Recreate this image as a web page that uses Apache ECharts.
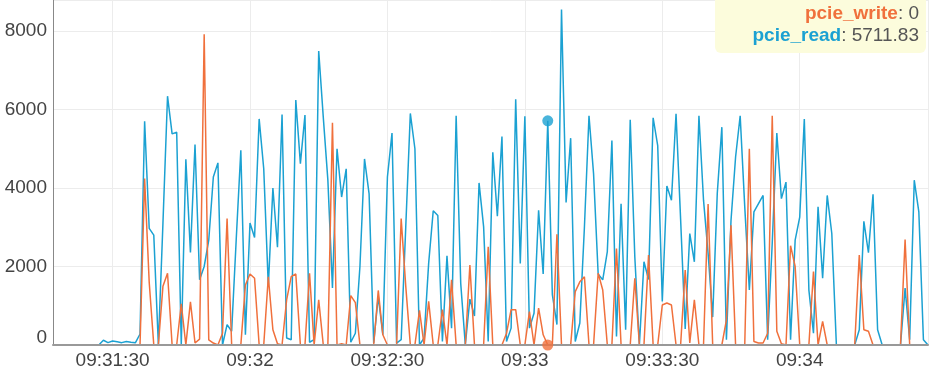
<!DOCTYPE html>
<html>
<head>
<meta charset="utf-8">
<script src="https://cdn.jsdelivr.net/npm/echarts@6/dist/echarts.min.js"></script>
<style>
html,body{margin:0;padding:0;background:#fff;}
#chart{width:944px;height:388px;}
</style>
</head>
<body>
<div id="chart"></div>
<script>
// ---- data (one sample per second, starting 09:31:17) ----
const startTime = [2024, 0, 1, 9, 31, 17];
const stepSeconds = 1;
const seriesNames = ['pcie_write', 'pcie_read'];
const pcieRead = [
  0,0,0,0,0,0,0,0,0,0,
  0,120,60,100,80,60,90,70,60,280,
  5700,2970,2800,0,3100,6340,5380,5420,0,4730,
  2360,5110,1660,2000,2670,4280,4640,0,520,350,
  2700,4960,260,3110,2740,5760,4490,1500,4000,2490,
  5870,180,135,6240,4620,5860,70,135,7490,5800,
  4200,1450,5000,3770,4490,70,300,2000,4740,3850,
  50,1235,260,4280,5400,50,135,3000,5900,5000,
  0,180,2080,3420,3300,90,2270,430,5840,1570,
  0,1170,740,4130,3010,90,4910,3280,5310,90,
  430,6260,2080,5830,430,810,3430,1810,5711.83,1280,
  520,8550,3630,5270,90,560,3000,5840,4360,1810,
  1660,2380,5210,220,3600,390,5740,2250,0,2120,
  1670,5790,5080,1110,4050,3690,5890,3200,410,2840,
  2120,5840,3690,2330,710,3860,5550,135,3180,4790,
  5840,3520,1400,3390,3600,3810,135,2600,5400,3730,
  4150,135,2670,3260,5760,1400,300,3520,1700,3810,
  2840,0,0,0,0,0,390,3150,2350,3840,
  390,0,0,0,0,0,1450,135,4200,3390,
  135,0
];
const pcieWrite = [
  0,0,0,0,0,0,0,0,0,0,
  0,0,0,0,0,0,0,0,0,0,
  4240,1600,0,0,1500,1830,0,0,1050,0,
  1100,50,150,7920,130,50,0,300,3220,0,
  0,0,1530,1810,1700,0,0,1740,390,30,
  0,1150,1740,1810,0,0,1830,0,1150,0,
  0,5660,0,30,0,1260,1080,0,0,0,
  0,1390,260,0,0,0,3220,1500,0,0,
  880,0,1110,0,0,900,0,1660,0,0,
  0,2040,0,0,0,2500,0,0,0,300,
  900,900,0,0,850,0,940,260,0,0,
  2820,0,0,0,1360,1610,1740,0,0,1830,
  1400,0,0,2460,0,0,0,1700,0,0,
  2290,0,0,1020,1070,1020,0,0,1910,50,
  1150,0,0,3590,0,0,0,640,3050,0,
  0,0,5000,90,50,50,300,5840,350,30,
  0,2530,2000,0,0,0,1870,0,600,0,
  0,0,0,0,0,0,2290,390,350,0,
  0,0,0,0,0,0,2690,0,0,0,
  0,0
];
const highlightIndex = 108; // 09:33:05
const yTicks = [0, 2000, 4000, 6000, 8000];
const yMax = 8790;

// ---- build ----
const t0 = new Date(startTime[0], startTime[1], startTime[2], startTime[3], startTime[4], startTime[5]).getTime();
const times = pcieRead.map((_, i) => t0 + i * stepSeconds * 1000);
const readData = pcieRead.map((v, i) => [times[i], v]);
const writeData = pcieWrite.map((v, i) => [times[i], v]);

const colWrite = '#f0703c';
const colRead = '#1ba1d2';
const pad = n => (n < 10 ? '0' : '') + n;
const FONT = 'Liberation Sans, Arial, sans-serif';

const chart = echarts.init(document.getElementById('chart'), null, {renderer: 'canvas'});
chart.setOption({
  animation: false,
  backgroundColor: '#fff',
  grid: {left: 53, right: 16, top: 0, bottom: 43, containLabel: false},
  xAxis: [{
    type: 'time',
    min: times[0],
    max: times[times.length - 1],
    minInterval: 31000,
    maxInterval: 31000,
    axisLine: {show: false},
    axisTick: {show: false},
    splitLine: {show: true, lineStyle: {color: '#ececec', width: 1}},
    axisLabel: {
      color: '#444', fontSize: 19, fontFamily: FONT, margin: 6,
      showMinLabel: false, showMaxLabel: false,
      formatter: function (v) {
        const d = new Date(v);
        const s = d.getSeconds();
        return pad(d.getHours()) + ':' + pad(d.getMinutes()) + (s ? ':' + pad(s) : '');
      }
    }
  }, {
    // axis line only, drawn above the series
    type: 'time', position: 'bottom', z: 4,
    min: times[0],
    max: times[times.length - 1],
    axisLine: {show: true, onZero: false, lineStyle: {color: '#999', width: 2}},
    axisTick: {show: false},
    axisLabel: {show: false},
    splitLine: {show: false}
  }],
  yAxis: {
    type: 'value',
    min: 0,
    max: yMax,
    interval: yTicks[1] - yTicks[0],
    axisLine: {show: true, lineStyle: {color: '#888', width: 1}},
    axisTick: {show: false},
    splitLine: {show: true, lineStyle: {color: '#ececec', width: 1}},
    axisLabel: {
      color: '#444', fontSize: 19, fontFamily: FONT, margin: 6,
      showMaxLabel: false,
      formatter: function (v) { return v === 0 ? '{z|0}' : String(v); },
      rich: {z: {color: '#444', fontSize: 19, fontFamily: FONT, padding: [0, 0, 14, 0]}}
    }
  },
  series: [
    {
      name: seriesNames[1], type: 'line', data: readData, showSymbol: false,
      lineStyle: {color: colRead, width: 1.5}, itemStyle: {color: colRead}, z: 2
    },
    {
      name: seriesNames[0], type: 'line', data: writeData, showSymbol: false,
      lineStyle: {color: colWrite, width: 1.5}, itemStyle: {color: colWrite}, z: 3
    },
    {
      type: 'scatter', data: [readData[highlightIndex]], symbolSize: 11,
      itemStyle: {color: colRead}, z: 6
    },
    {
      type: 'scatter', data: [writeData[highlightIndex]], symbolSize: 11,
      itemStyle: {color: colWrite}, z: 6
    }
  ],
  graphic: [
    {
      type: 'rect', z: 100,
      shape: {x: 715, y: -8, width: 211, height: 61, r: 6},
      style: {fill: '#fcfcdc'}
    },
    {
      type: 'text', z: 101, x: 919, y: 14,
      style: {
        text: '{a|' + seriesNames[0] + '}{b|: ' + pcieWrite[highlightIndex] + '}',
        align: 'right', verticalAlign: 'middle',
        rich: {
          a: {fill: colWrite, fontWeight: 'bold', fontSize: 19, fontFamily: FONT},
          b: {fill: '#555', fontSize: 19, fontFamily: FONT}
        }
      }
    },
    {
      type: 'text', z: 101, x: 919, y: 36,
      style: {
        text: '{a|' + seriesNames[1] + '}{b|: ' + pcieRead[highlightIndex] + '}',
        align: 'right', verticalAlign: 'middle',
        rich: {
          a: {fill: colRead, fontWeight: 'bold', fontSize: 19, fontFamily: FONT},
          b: {fill: '#555', fontSize: 19, fontFamily: FONT}
        }
      }
    }
  ]
});
</script>
</body>
</html>
